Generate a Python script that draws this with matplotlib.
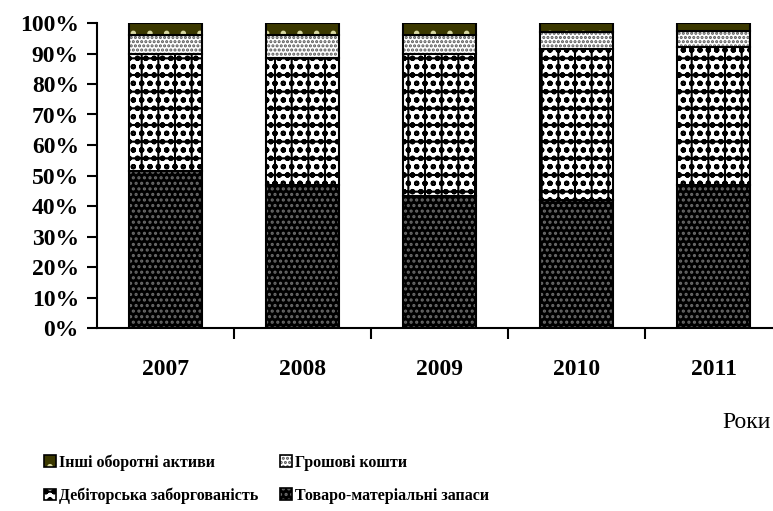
import matplotlib.pyplot as plt
from matplotlib.ticker import FixedLocator, FuncFormatter
from matplotlib.legend_handler import HandlerTuple
from matplotlib.patches import Patch
import numpy as np

years = ['2007', '2008', '2009', '2010', '2011']
# shares of current assets, %
tovaro = [51.5, 46.9, 43.3, 42.0, 46.9]
debitor = [38.3, 41.5, 46.7, 49.4, 45.3]
groshi = [6.3, 7.7, 6.1, 5.5, 5.2]
inshi = [3.9, 3.9, 3.9, 3.1, 2.6]

labels = ['Товаро-матеріальні запаси', 'Дебіторська заборгованість',
          'Грошові кошти', 'Інші оборотні активи']
# face colour, hatch colour, hatch
styles = [('#000000', '#6a6a6a', '...'),
          ('#ffffff', '#000000', 'oo+'),
          ('#ffffff', '#555555', '....'),
          ('#3b3800', '#d8d8a0', '.')]

plt.rcParams['font.family'] = ['Liberation Serif', 'DejaVu Serif']
plt.rcParams['hatch.linewidth'] = 1.5

fig = plt.figure(figsize=(7.73, 5.11), dpi=100)
ax = fig.add_axes([97 / 773, 183 / 511, 685 / 773, 305 / 511])

x = np.arange(len(years))
w = 0.53
bottom = np.zeros(len(years))
handles = {}
for vals, lab, (fc, hc, h) in zip([tovaro, debitor, groshi, inshi], labels, styles):
    ax.bar(x, vals, w, bottom=bottom, color=fc, edgecolor=hc, hatch=h, linewidth=0)
    ax.bar(x, vals, w, bottom=bottom, fill=False, edgecolor='black', linewidth=1.5)
    bottom += np.array(vals)
    handles[lab] = (Patch(facecolor=fc, edgecolor=hc, hatch=h, linewidth=0),
                    Patch(fill=False, edgecolor='black', linewidth=1.2))

ax.set_xlim(-0.5, len(years) - 0.5)
ax.set_ylim(0, 100)
ax.spines['top'].set_visible(False)
ax.spines['right'].set_visible(False)
ax.spines['left'].set_linewidth(1.5)
ax.spines['bottom'].set_linewidth(1.5)

ax.set_yticks(np.arange(0, 101, 10))
ax.yaxis.set_major_formatter(FuncFormatter(lambda v, _: f'{int(v)}%'))
ax.tick_params(axis='y', length=7, width=1.5, labelsize=17, pad=6)
for t in ax.get_yticklabels():
    t.set_fontweight('bold')

ax.set_xticks(x)
ax.set_xticklabels(years, fontweight='bold')
ax.xaxis.set_minor_locator(FixedLocator(x[:-1] + 0.5))
ax.tick_params(axis='x', which='major', length=0, labelsize=17, pad=22)
ax.tick_params(axis='x', which='minor', length=8, width=1.5)

fig.text(722 / 773, 1 - 422 / 511, 'Роки', fontsize=17, va='center', ha='left')

order = ['Інші оборотні активи', 'Дебіторська заборгованість',
         'Грошові кошти', 'Товаро-матеріальні запаси']
leg = fig.legend([handles[k] for k in order], order, ncol=2,
                 handler_map={tuple: HandlerTuple(ndivide=1, pad=0)},
                 loc='upper left', bbox_to_anchor=(30 / 773, 1 - 440 / 511),
                 frameon=False, handlelength=0.75, handleheight=0.75,
                 handletextpad=0.15, columnspacing=1.4, labelspacing=1.05,
                 prop={'size': 11.5, 'weight': 'bold'})

fig.savefig('out.png', dpi=100)
